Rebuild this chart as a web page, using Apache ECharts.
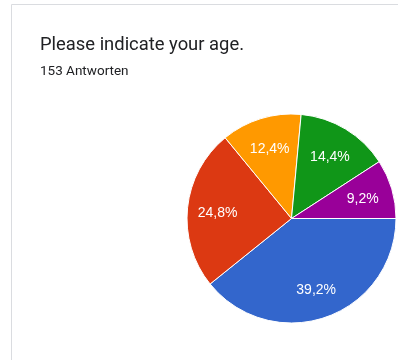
<!DOCTYPE html>
<html>
<head>
<meta charset="utf-8">
<script src="https://cdn.jsdelivr.net/npm/echarts@6/dist/echarts.min.js"></script>
<style>
  html, body { margin: 0; padding: 0; background: #ffffff; }
  #chart { width: 398px; height: 360px; }
</style>
</head>
<body>
<div id="chart"></div>
<script>
// Survey question and response count
const questionTitle = 'Please indicate your age.';
const responseText = '153 Antworten';

// Answers per age group (153 responses in total), clockwise from 3 o'clock
const ageGroups = ['Group 1', 'Group 2', 'Group 3', 'Group 4', 'Group 5'];
const responses = [60, 38, 19, 22, 14];
const sliceColors = ['#3366cc', '#dc3912', '#ff9900', '#109618', '#990099'];

const pieData = ageGroups.map((name, i) => ({
  name: name,
  value: responses[i],
  itemStyle: { color: sliceColors[i] }
}));

const center = [291.5, 218.5];
const outerR = 104.5;

const formatPercent = p => p.percent.toFixed(1).replace('.', ',') + '%';

const chart = echarts.init(document.getElementById('chart'), null, { renderer: 'canvas' });

chart.setOption({
  animation: false,
  backgroundColor: '#ffffff',
  title: [
    {
      text: questionTitle,
      left: 40,
      top: 36,
      padding: 0,
      textStyle: { fontFamily: 'Roboto', fontSize: 18.4, fontWeight: 'normal', color: '#202124' }
    },
    {
      text: responseText,
      left: 40,
      top: 65,
      padding: 0,
      textStyle: { fontFamily: 'Roboto', fontSize: 13.5, fontWeight: 'normal', color: '#202124' }
    }
  ],
  graphic: [
    {
      type: 'line',
      shape: { x1: 11.5, y1: 4.5, x2: 398, y2: 4.5 },
      style: { stroke: '#dadce0', lineWidth: 1 }
    },
    {
      type: 'line',
      shape: { x1: 11.5, y1: 4.5, x2: 11.5, y2: 360 },
      style: { stroke: '#dadce0', lineWidth: 1 }
    }
  ],
  series: [
    {
      // coloured slices
      type: 'pie',
      center: center,
      radius: [0, outerR],
      startAngle: 0,
      clockwise: true,
      percentPrecision: 1,
      silent: true,
      label: { show: false },
      labelLine: { show: false },
      itemStyle: { borderColor: '#ffffff', borderWidth: 1 },
      data: pieData
    },
    {
      // percentage labels, placed further out along each slice
      type: 'pie',
      center: center,
      radius: [38, outerR],
      startAngle: 0,
      clockwise: true,
      percentPrecision: 1,
      silent: true,
      itemStyle: { color: 'rgba(0,0,0,0)' },
      labelLine: { show: false },
      label: {
        show: true,
        position: 'inside',
        formatter: formatPercent,
        color: '#ffffff',
        fontFamily: 'Liberation Sans, Arial',
        fontSize: 14,
        offset: [0, 2]
      },
      data: ageGroups.map((name, i) => ({ name: name, value: responses[i] }))
    }
  ]
});
</script>
</body>
</html>
